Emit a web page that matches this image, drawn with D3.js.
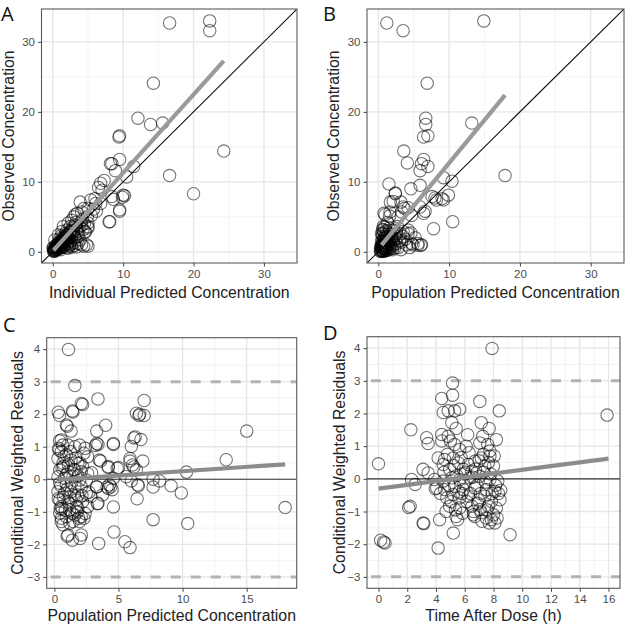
<!DOCTYPE html>
<html><head><meta charset="utf-8">
<script src="https://cdn.jsdelivr.net/npm/d3@7"></script>
<style>body{margin:0;background:#fff}svg{display:block}</style>
</head><body>
<svg id="c" width="625" height="627"></svg>
<script>
// ---------- DATA ----------
// Panel A: individual predicted (x) vs observed (y)
const ipredA = [16.6,22.3,22.3,14.3,12.1,13.9,15.6,9.4,9.5,24.3,9.5,8.4,8.2,8.9,16.6,20.0,10.5,11.5,10.2,9.9,9.5,8.1,8.6,7.3,6.8,6.5,7.0,3.9,5.4,6.1,6.8,3.5,4.4,4.9,5.0,4.6,3.9,5.0,4.4,3.0,2.7,2.5,2.0,
 8.4,10.0,9.5,8.0,4.1,3.2,5.0,6.0,5.0,5.0,4.6,4.8,4.1,3.4,2.7,2.2,3.6,2.9,2.6,2.0,1.5,2.2,3.2,4.1,0.8,0.3,1.3,1.0,1.7,0.6,0.1,1.5,2.0,0.05,
 0.1,0.2,0.3,0.4,0.5,0.6,0.7,0.8,0.9,1.0,1.1,1.2,1.3,1.4,1.5,1.6,1.7,1.8,1.9,2.0,0.2,0.3,0.5,0.6,0.8,1.0,1.2,1.4,1.6,1.8,2.1,2.3,2.4,2.6,2.8,0.15,0.35,0.45,0.7,0.9,1.1,1.3,2.2,2.5,3.0,3.2,3.5,3.8,4.2,4.5,5.5,5.8,6.2,2.9,3.3,
 0.25,0.35,0.55,0.65,0.75,0.85,0.95,1.05,1.15,1.25,1.35,1.45,1.55,1.65,1.75,1.85,1.95,2.05,2.15,2.35,2.45,2.55,2.65,2.85,3.05,3.4,3.6,4.0,4.3,2.0,2.4,3.1,3.6,1.2,0.9];
const obsA   = [32.7,33.0,31.6,24.1,19.1,18.2,18.4,16.4,16.6,14.4,13.2,12.6,12.6,11.6,10.9,8.3,10.7,12.2,8.0,7.8,5.8,4.3,7.5,10.2,9.8,9.2,8.8,7.1,7.4,6.9,6.9,5.5,6.2,5.0,3.6,2.8,1.7,0.8,0.8,5.0,4.5,3.6,3.1,
 7.9,8.1,6.0,4.3,5.7,5.3,6.2,7.6,4.1,3.4,2.9,1.0,1.0,0.7,0.7,0.5,2.2,2.9,3.1,2.4,3.6,4.1,3.8,3.8,2.4,1.7,2.9,1.4,1.4,1.0,0.7,0.7,1.0,0.5,
 0.1,0.3,0.2,0.5,0.4,0.8,0.6,0.9,1.1,0.8,1.3,1.0,1.6,1.2,1.8,1.4,2.1,1.5,2.4,1.7,0.05,0.6,0.9,0.3,0.4,1.5,0.6,2.0,0.9,2.6,1.2,2.0,2.8,1.6,2.4,0.35,0.15,0.7,1.2,0.5,0.3,0.7,0.9,1.1,1.3,2.0,3.0,3.6,4.6,4.0,5.2,6.1,5.8,3.5,4.2,
 0.2,0.4,0.5,0.7,0.8,0.7,1.0,1.2,0.9,1.4,1.1,1.6,1.3,1.9,1.6,2.0,1.3,2.3,1.9,2.5,1.5,2.9,2.2,3.0,2.1,3.3,2.6,4.3,3.2,0.6,0.8,0.9,1.2,2.3,1.8];
const trendA_x = [0.1, 24.3];
const trendA_y = [0.2, 27.3];

// Panel B: population predicted (x) vs observed (y)
const predB = [1.2,3.5,14.9,6.9,6.7,6.7,13.2,6.4,7.0,3.6,4.1,6.4,6.1,7.0,5.9,17.9,1.5,4.6,5.9,9.2,10.4,9.9,9.2,8.0,7.6,8.2,2.4,1.7,3.2,3.7,4.2,6.4,6.6,10.5,7.8,0.8,1.6,4.7,4.2,4.6,5.6,6.0,4.9,3.5,3.1,2.1,
 2.4,2.1,3.5,3.3,1.65,0.95,2.8,5.9,9.0,0.7,0.7,1.65,2.4,3.5,4.2,3.3,4.7,5.6,6.1,4.0,2.6,2.1,
 0.3,0.4,0.5,0.6,0.7,0.8,0.9,1.0,1.1,1.2,1.3,1.4,1.5,1.6,1.7,1.8,1.9,2.0,0.35,0.45,0.55,0.65,0.75,0.85,0.95,1.05,1.15,1.25,1.35,1.45,1.55,0.4,0.6,0.8,1.0,0.5,0.7,2.2,2.5,2.8,3.0,2.3,0.9,1.3,0.6,2.7,3.8,4.4,5.2,
 0.3,0.4,0.5,0.55,0.6,0.65,0.7,0.75,0.8,0.85,0.9,0.95,1.0,1.05,1.1,1.15,1.2,1.3,1.4,1.5,1.6,1.7,1.8,1.9,2.1,2.3,2.6,3.2,0.45,0.6];
const obsB  = [32.7,31.6,33.0,24.1,19.1,18.2,18.4,16.4,16.6,14.4,12.7,13.2,12.6,12.2,11.6,10.9,9.7,9.0,9.5,10.6,10.1,8.1,7.4,7.7,7.9,7.4,8.3,7.1,7.1,6.2,6.3,5.5,5.8,4.3,3.3,5.5,5.1,5.2,3.1,2.7,0.95,0.95,1.0,2.2,2.6,3.1,
 8.4,7.2,6.4,5.7,5.7,5.3,5.0,6.4,7.6,3.6,3.1,3.1,2.4,2.9,2.6,1.4,1.2,1.2,1.0,1.0,1.2,1.7,
 0.1,0.3,0.6,0.2,0.9,0.4,1.2,0.7,1.6,0.3,1.0,2.0,0.5,1.4,2.5,0.8,1.8,0.3,0.8,1.5,2.2,1.1,2.8,1.9,0.2,2.4,3.0,0.6,1.7,2.7,3.4,0.05,0.5,1.4,0.15,1.0,0.05,1.0,1.9,0.6,1.6,2.3,3.5,4.2,2.5,3.6,1.8,0.6,2.0,
 0.4,0.7,0.2,1.3,0.9,0.1,1.6,0.5,2.1,0.9,0.4,1.6,2.0,0.9,0.5,1.3,2.2,0.2,1.1,1.5,0.4,1.1,2.0,0.5,1.4,0.5,2.6,0.3,2.6,3.2];
const trendB_x = [0.45, 17.9];
const trendB_y = [0.95, 22.4];

// Panel C: population predicted (x) vs CWRES (y)
const predC = [1.1,1.6,0.3,0.4,1.4,2.2,3.4,7.0,6.4,6.6,7.0,1.0,1.3,3.3,4.0,6.3,6.2,6.75,15.0,0.4,3.2,3.4,4.6,6.0,13.4,6.9,3.6,5.9,5.0,4.2,6.2,10.3,7.7,8.2,9.1,9.9,7.7,6.55,6.0,3.3,4.1,4.5,6.45,4.6,3.35,7.7,10.4,18.0,4.65,5.5,5.9,3.45,2.0,1.4,1.0,
 2.1,1.45,0.93,0.54,1.06,1.6,1.97,2.4,2.6,3.3,4.6,3.5,0.54,0.93,0.28,0.67,1.3,1.84,2.2,4.2,4.9,0.42,1.06,1.6,2.1,2.6,0.28,0.8,1.45,1.97,2.5,0.42,0.93,1.6,2.1,3.3,4.2,4.4,0.28,0.8,1.3,1.84,2.5,0.42,1.06,1.7,2.2,2.85,3.75,0.54,1.19,1.84,2.6,3.4,0.42,0.93,1.6,2.1,0.54,0.67,1.45,1.97,2.3,1.06,2.1,4.3,6.65,5.9,6.1,6.4,6.5,4.6,5.6,0.7,1.2,1.8,0.35,0.6,
 0.35,0.5,0.6,0.7,0.75,0.85,0.95,1.0,1.1,1.15,1.25,1.35,1.4,1.5,1.55,1.65,1.75,1.85,1.9,2.0,2.15,2.3,2.4,2.7,2.9,0.45,0.65,0.3,0.55,1.2];
const cwresC = [3.99,2.88,2.06,1.96,2.1,2.3,2.47,2.42,2.03,1.96,1.96,1.63,1.48,1.48,1.66,1.3,1.27,1.22,1.48,1.18,1.04,1.07,1.07,1.01,0.6,0.56,0.56,0.56,0.36,0.36,0.38,0.22,0.0,-0.05,-0.2,-0.42,-0.24,-0.2,-0.05,-0.24,-0.24,-0.32,-0.6,-0.85,-0.75,-1.24,-1.36,-0.87,-1.62,-1.92,-2.1,-1.97,-1.82,-1.87,-1.75,
 2.33,2.07,1.67,1.21,1.05,1.0,1.05,0.95,0.69,1.1,1.1,0.59,0.85,0.75,0.64,0.49,0.59,0.49,0.39,0.39,0.34,0.29,0.23,0.29,0.23,0.18,0.08,0.03,0.08,-0.02,-0.02,-0.12,-0.17,-0.23,-0.23,-0.23,-0.28,-0.23,-0.38,-0.43,-0.38,-0.48,-0.43,-0.64,-0.69,-0.64,-0.69,-0.53,-0.48,-0.84,-0.94,-0.89,-0.84,-0.74,-1.04,-1.15,-1.1,-1.15,-1.3,-1.4,-1.3,-1.3,-1.2,-1.71,-1.71,-0.17,2.0,0.64,0.44,0.29,-0.17,0.03,0.08,0.4,-0.55,-1.0,0.9,-0.9,
 0.95,-0.2,0.35,-0.55,0.7,-0.95,0.15,-0.3,0.45,-0.75,0.85,-0.1,-1.05,0.3,-0.5,0.65,-0.85,0.1,-1.2,0.5,-0.5,0.8,-1.05,-0.4,0.2,-0.9,1.05,-0.6,-1.2,-1.35];
const trendC_x = [0.3, 18.0];
const trendC_y = [-0.01, 0.46];

// Panel D: time after dose (x) vs CWRES (y)
const timeD = [0.0,0.15,0.35,0.45,7.9,15.9,4.15,2.25,3.15,2.1,
 5.15,4.4,5.15,7.05,8.4,4.5,4.85,5.3,5.65,5.1,5.4,7.15,7.7,3.35,3.45,4.4,4.4,5.0,5.3,5.65,6.1,7.05,7.6,8.2,7.75,4.15,4.6,5.2,4.5,5.55,6.25,6.7,7.15,7.75,7.4,8.0,3.1,3.45,4.95,5.9,6.5,2.3,2.55,3.9,4.5,5.1,5.65,6.35,7.05,7.75,8.3,4.05,4.6,5.3,5.9,6.7,7.5,8.1,4.75,5.2,5.65,6.25,6.95,7.4,7.85,8.45,4.95,5.65,6.5,7.05,7.65,8.2,5.4,5.5,6.7,7.15,7.5,7.85,8.1,3.1,4.25,5.2,9.15,2.2,3.95,6.0,6.9,7.3,5.8,6.6,
 4.3,4.55,4.7,4.8,4.9,5.05,5.25,5.35,5.45,5.6,5.75,5.85,5.95,6.05,6.15,6.3,6.4,6.55,6.6,6.75,6.85,7.0,7.1,7.2,7.3,7.45,7.55,7.65,7.7,7.8,7.9,8.0,8.05,8.15,8.25,8.35,8.5,4.85,6.2,7.25];
const cwresD = [0.46,-1.88,-1.93,-1.96,3.99,1.95,-2.12,1.5,-1.37,-0.88,
 2.93,2.46,2.56,2.37,2.08,2.03,2.08,2.08,2.13,1.72,1.54,1.72,1.54,1.26,1.08,1.36,1.16,1.16,1.05,0.9,1.0,1.1,1.05,1.2,0.85,0.64,0.59,0.64,0.44,0.49,0.44,0.54,0.64,0.69,0.39,0.39,0.29,0.18,0.29,0.29,0.23,-0.02,-0.17,-0.02,-0.07,0.03,-0.02,0.03,0.08,-0.02,-0.07,-0.28,-0.33,-0.23,-0.33,-0.28,-0.33,-0.38,-0.58,-0.48,-0.58,-0.53,-0.64,-0.53,-0.69,-0.64,-0.84,-0.89,-0.84,-0.94,-0.84,-0.89,-1.15,-1.25,-1.15,-1.04,-1.2,-1.25,-1.35,-1.35,-1.25,-1.66,-1.71,-0.84,-0.3,0.15,-0.75,0.75,-0.45,-1.0,
 -0.45,0.2,-1.0,0.75,-0.2,-0.7,0.4,-0.95,0.1,-0.4,0.65,-1.05,-0.15,0.2,-0.7,0.8,-0.45,0.05,-1.1,0.3,-0.2,0.55,-0.45,-1.3,0.2,-0.1,-0.95,0.5,-1.35,0.15,-0.45,-1.1,0.7,-0.2,-1.2,-0.45,-0.35,1.3,1.35,1.3];
const trendD_x = [0.0, 16.0];
const trendD_y = [-0.30, 0.62];

// Tick labels
const ticksConc = [0, 10, 20, 30];
const ticksRes = [-3, -2, -1, 0, 1, 2, 3, 4];
const ticksPredC = [0, 5, 10, 15];
const ticksTime = [0, 2, 4, 6, 8, 10, 12, 14, 16];
const refLevels = [-3, 3];

// ---------- DRAW ----------
const svg = d3.select("#c");
const SANS = "'Liberation Sans', Arial, sans-serif";

function panel(cfg) {
  const g = svg.append("g");
  const x = d3.scaleLinear().domain(cfg.xd).range([cfg.l, cfg.r]);
  const y = d3.scaleLinear().domain(cfg.yd).range([cfg.b, cfg.t]);
  const mx = [], my = [];
  for (let i = 0; i < cfg.xt.length - 1; i++) mx.push((cfg.xt[i] + cfg.xt[i+1]) / 2);
  const sx = cfg.xt[1]-cfg.xt[0];
  mx.push(cfg.xt[cfg.xt.length-1] + sx/2); mx.push(cfg.xt[0]-sx/2);
  for (let i = 0; i < cfg.yt.length - 1; i++) my.push((cfg.yt[i] + cfg.yt[i+1]) / 2);
  const sy = cfg.yt[1]-cfg.yt[0];
  my.push(cfg.yt[cfg.yt.length-1] + sy/2); my.push(cfg.yt[0]-sy/2);
  const inX = v => v > cfg.xd[0] && v < cfg.xd[1];
  const inY = v => v > cfg.yd[0] && v < cfg.yd[1];
  g.selectAll(".mgx").data(mx.filter(inX)).enter().append("line")
    .attr("x1", d => x(d)).attr("x2", d => x(d)).attr("y1", cfg.t).attr("y2", cfg.b)
    .attr("stroke", "#f0f0f0").attr("stroke-width", 0.8);
  g.selectAll(".mgy").data(my.filter(inY)).enter().append("line")
    .attr("y1", d => y(d)).attr("y2", d => y(d)).attr("x1", cfg.l).attr("x2", cfg.r)
    .attr("stroke", "#f0f0f0").attr("stroke-width", 0.8);
  g.selectAll(".gx").data(cfg.xt).enter().append("line")
    .attr("x1", d => x(d)).attr("x2", d => x(d)).attr("y1", cfg.t).attr("y2", cfg.b)
    .attr("stroke", "#e6e6e6").attr("stroke-width", 1.3);
  g.selectAll(".gy").data(cfg.yt).enter().append("line")
    .attr("y1", d => y(d)).attr("y2", d => y(d)).attr("x1", cfg.l).attr("x2", cfg.r)
    .attr("stroke", "#e6e6e6").attr("stroke-width", 1.3);

  const clipId = "clip" + cfg.id;
  svg.append("clipPath").attr("id", clipId).append("rect")
    .attr("x", cfg.l).attr("y", cfg.t).attr("width", cfg.r - cfg.l).attr("height", cfg.b - cfg.t);
  const pg = g.append("g").attr("clip-path", `url(#${clipId})`);

  if (cfg.identity) {
    pg.append("line").attr("x1", x(cfg.xd[0])).attr("y1", y(cfg.xd[0]))
      .attr("x2", x(cfg.yd[1])).attr("y2", y(cfg.yd[1]))
      .attr("stroke", "#111").attr("stroke-width", 1.1);
  }
  if (cfg.hline) {
    pg.selectAll(".ref").data(refLevels).enter().append("line")
      .attr("x1", cfg.l).attr("x2", cfg.r).attr("y1", d => y(d)).attr("y2", d => y(d))
      .attr("stroke", "#b3b3b3").attr("stroke-width", 3).attr("stroke-dasharray", "10,10")
      .attr("stroke-dashoffset", -4);
    pg.append("line").attr("x1", cfg.l).attr("x2", cfg.r).attr("y1", y(0)).attr("y2", y(0))
      .attr("stroke", "#333").attr("stroke-width", 1.2);
  }
  pg.selectAll("circle").data(d3.range(cfg.px.length)).enter().append("circle")
    .attr("cx", i => x(cfg.px[i])).attr("cy", i => y(cfg.py[i])).attr("r", 6.2)
    .attr("fill", "none").attr("stroke", "#000").attr("stroke-opacity", 0.55).attr("stroke-width", 1.1);
  pg.append("path")
    .attr("d", d3.line().x(i => x(cfg.tx[i])).y(i => y(cfg.ty[i]))(d3.range(cfg.tx.length)))
    .attr("stroke", cfg.trendCol).attr("stroke-width", 4.2).attr("fill", "none");

  g.append("rect").attr("x", cfg.l).attr("y", cfg.t).attr("width", cfg.r - cfg.l).attr("height", cfg.b - cfg.t)
    .attr("fill", "none").attr("stroke", "#5a5a5a").attr("stroke-width", 1.1);

  const ax = g.append("g").attr("transform", `translate(0,${cfg.b})`)
    .call(d3.axisBottom(x).tickValues(cfg.xt).tickSize(3.5).tickPadding(3).tickFormat(d3.format("d")));
  ax.select(".domain").remove();
  ax.selectAll("line").attr("stroke", "#444");
  ax.selectAll("text").attr("font-family", SANS).attr("font-size", "11.5px").attr("fill", "#4d4d4d");
  const ay = g.append("g").attr("transform", `translate(${cfg.l},0)`)
    .call(d3.axisLeft(y).tickValues(cfg.yt).tickSize(3.5).tickPadding(3).tickFormat(d3.format("d")));
  ay.select(".domain").remove();
  ay.selectAll("line").attr("stroke", "#444");
  ay.selectAll("text").attr("font-family", SANS).attr("font-size", "11.5px").attr("fill", "#4d4d4d");

  g.append("text").attr("x", (cfg.l + cfg.r) / 2).attr("y", cfg.b + cfg.xtOff)
    .attr("text-anchor", "middle").attr("font-family", SANS)
    .attr("font-size", "15.8px").attr("fill", "#222").text(cfg.xlab);
  g.append("text").attr("transform", `translate(${cfg.ytx},${(cfg.t + cfg.b) / 2}) rotate(-90)`)
    .attr("text-anchor", "middle").attr("font-family", SANS)
    .attr("font-size", "15.8px").attr("fill", "#222").text(cfg.ylab);
  svg.append("text").attr("x", cfg.lx).attr("y", cfg.ly)
    .attr("font-family", "'Open Sans', 'Noto Sans', sans-serif").attr("font-size", "20px").attr("fill", "#111")
    .text(cfg.tag);
}

panel({id:"A", tag:"A", lx:1, ly:21, l:41.5, r:297, t:9, b:263, xd:[-1.6,34.7], yd:[-1.6,34.7],
  xt:ticksConc, yt:ticksConc, px:ipredA, py:obsA, tx:trendA_x, ty:trendA_y, identity:true,
  trendCol:"#9a9a9a", xlab:"Individual Predicted Concentration", ylab:"Observed Concentration", xtOff:35, ytx:14});
panel({id:"B", tag:"B", lx:323, ly:21, l:367, r:624, t:9, b:263, xd:[-1.6,34.7], yd:[-1.6,34.7],
  xt:ticksConc, yt:ticksConc, px:predB, py:obsB, tx:trendB_x, ty:trendB_y, identity:true,
  trendCol:"#9a9a9a", xlab:"Population Predicted Concentration", ylab:"Observed Concentration", xtOff:35, ytx:339});
panel({id:"C", tag:"C", lx:3, ly:332, l:46.7, r:296.7, t:337.7, b:588.3, xd:[-0.6,18.9], yd:[-3.35,4.35],
  xt:ticksPredC, yt:ticksRes, px:predC, py:cwresC, tx:trendC_x, ty:trendC_y, hline:true,
  trendCol:"#8c8c8c", xlab:"Population Predicted Concentration", ylab:"Conditional Weighted Residuals", xtOff:33, ytx:23});
panel({id:"D", tag:"D", lx:323, ly:340, l:367, r:620, t:336.7, b:588.3, xd:[-0.8,16.8], yd:[-3.35,4.35],
  xt:ticksTime, yt:ticksRes, px:timeD, py:cwresD, tx:trendD_x, ty:trendD_y, hline:true,
  trendCol:"#8c8c8c", xlab:"Time After Dose (h)", ylab:"Conditional Weighted Residuals", xtOff:33, ytx:345});
</script>
</body></html>
